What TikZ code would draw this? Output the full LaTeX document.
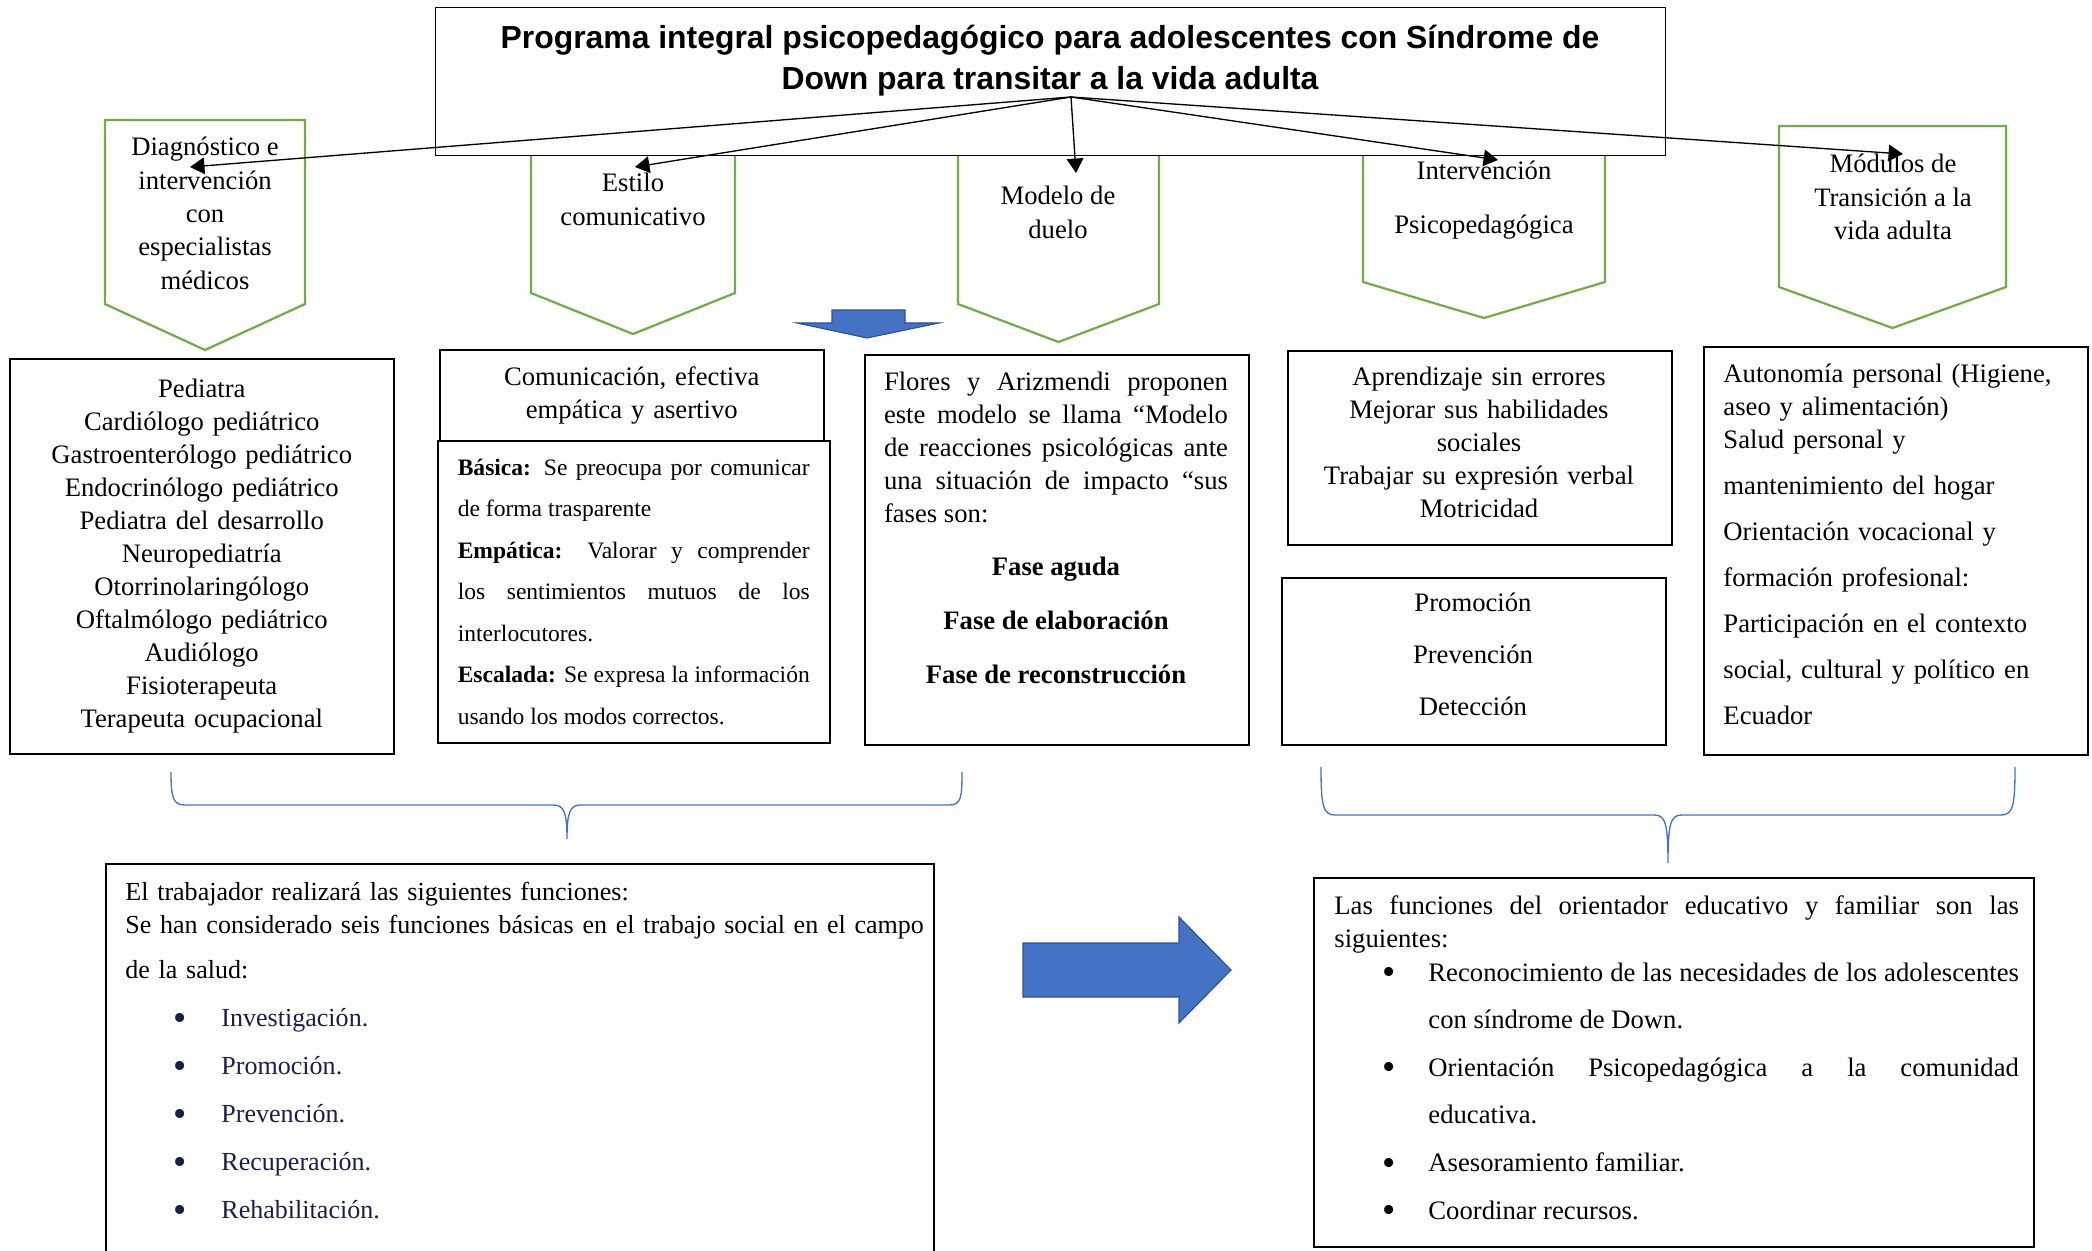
\documentclass[tikz,border=0pt]{standalone}
\usepackage{fontspec}
\setmainfont{Liberation Serif}
\newfontfamily\titlefont{Liberation Sans}
\usetikzlibrary{arrows.meta}
\definecolor{wgreen}{RGB}{112,173,71}
\definecolor{wblue}{RGB}{68,114,196}
\definecolor{wblueline}{RGB}{47,82,143}
\definecolor{navy}{RGB}{25,30,80}
\newcommand{\bigdot}{\raisebox{-1.6pt}{\fontsize{17}{17}\selectfont\textbullet}}

\begin{document}
\begin{tikzpicture}[x=0.45pt, y=-0.45pt,
    box/.style = {draw, line width=0.7pt, inner xsep=9pt, inner ysep=0pt, anchor=north west, font=\fontsize{12}{14.85}\selectfont},
    boxtext/.style = {inner sep=0pt, text width=154.8pt, font=\fontsize{12}{14.85}\selectfont},
    chev/.style = {draw=wgreen, line width=1pt},
    chevtext/.style = {anchor=north, inner sep=0pt, align=center, font=\fontsize{12}{15}\selectfont},
    link/.style = {-{Triangle[length=6.5pt,width=7.5pt]}, line width=0.6pt},
    fatarrow/.style = {fill=wblue, draw=wblueline, line width=0.5pt},
    wbrace/.style = {draw=wblue, line width=0.6pt}]
    \useasboundingbox (0,0) rectangle (2092,1251);

    \foreach \l/\r/\t/\s/\p in {105/305/120/304/350, 531/735/150/293/334, 958/1159/150/304/342, 1363/1605/150/282/318, 1779/2006/126/287/328}
        \draw[chev] (\l,\t) -- (\r,\t) -- (\r,\s) -- ({(\l+\r)/2},\p) -- (\l,\s) -- cycle;

    \node[draw, fill=white, line width=0.6pt, minimum width=553.5pt, minimum height=66.6pt, anchor=north west, inner sep=0pt] (titlebox) at (435,7) {};
    \node[anchor=north, inner sep=0pt, align=center, font=\titlefont\bfseries\fontsize{14.35}{18.45}\selectfont] (title) at (1050,25)
        {Programa integral psicopedagógico para adolescentes con Síndrome de\\ Down para transitar a la vida adulta};

    \node[chevtext] (diag) at (205,137) {Diagnóstico e\\ intervención\\ con\\ especialistas\\ médicos};
    \node[chevtext] (estilo) at (633,173) {Estilo\\ comunicativo};
    \node[chevtext] (duelo) at (1058,186) {Modelo de\\ duelo};
    \node[chevtext] (interv) at (1484,161) {Intervención\\[9.3pt] Psicopedagógica};
    \node[chevtext] (modulos) at (1893,154) {Módulos de\\ Transición a la\\ vida adulta};

    \coordinate (hub) at (1071,97);
    \coordinate (diagtip) at (190,167);
    \coordinate (estilotip) at (635,167);
    \coordinate (duelotip) at (1076,173);
    \coordinate (intervtip) at (1498,160);
    \coordinate (modulostip) at (1903,154);
    \draw[link] (hub) -- (diagtip);
    \draw[link] (hub) -- (estilotip);
    \draw[link] (hub) -- (duelotip);
    \draw[link] (hub) -- (intervtip);
    \draw[link] (hub) -- (modulostip);

    \draw[fatarrow] (832,310) -- (905,310) -- (905,323) -- (939,323) -- (867,338) -- (797,323) -- (832,323) -- cycle;

    \node[box, text width=154.8pt, minimum height=177.75pt, align=center] (medicos) at (9,358)
        {Pediatra\\ Cardiólogo pediátrico\\ Gastroenterólogo pediátrico\\ Endocrinólogo pediátrico\\ Pediatra del desarrollo\\ Neuropediatría\\ Otorrinolaringólogo\\ Oftalmólogo pediátrico\\ Audiólogo\\ Fisioterapeuta\\ Terapeuta ocupacional};

    \node[box, text width=154.8pt, minimum height=40.95pt, align=center] (comunic) at (439,349)
        {Comunicación, efectiva\\ empática y asertivo};
    \node[box, text width=158.4pt, minimum height=135.9pt, align=justify, font=\fontsize{10.6}{18.7}\selectfont] (estilos) at (437,440)
        {\parindent=0pt \textbf{Básica:} Se preocupa por comunicar\linebreak de forma trasparente\par
         \textbf{Empática:} Valorar y comprender\linebreak los sentimientos mutuos de los\linebreak interlocutores.\par
         \textbf{Escalada:} Se expresa la información\linebreak usando los modos correctos.};

    \node[box, minimum width=172.8pt, minimum height=175.5pt] (duelobox) at (864,354) {};
    \node[boxtext, anchor=north, align=justify] (fases) at (1056,372)
        {\parindent=0pt Flores y Arizmendi proponen\linebreak este modelo se llama “Modelo\linebreak de reacciones psicológicas ante\linebreak una situación de impacto “sus\linebreak fases son:\par
         \vspace{9pt}{\centering\bfseries Fase aguda\\[9.45pt] Fase de elaboración\\[9.45pt] Fase de reconstrucción\par}};

    \node[box, minimum width=172.8pt, minimum height=87.3pt] (aprendbox) at (1287,350) {};
    \node[boxtext, anchor=north, align=center] (aprend) at (1479,367)
        {Aprendizaje sin errores\\ Mejorar sus habilidades\\ sociales\\ Trabajar su expresión verbal\\ Motricidad};
    \node[box, minimum width=172.8pt, minimum height=75.15pt] (promobox) at (1281,577) {};
    \node[boxtext, anchor=north, align=center] (promo) at (1473,593)
        {Promoción\\[8.55pt] Prevención\\[8.55pt] Detección};

    \node[box, minimum width=172.8pt, minimum height=183.6pt] (transicbox) at (1703,346) {};
    \node[boxtext, anchor=north west, align=left] (transic) at (1723,364)
        {Autonomía personal (Higiene,\\ aseo y alimentación)\\ Salud personal y\\[5.85pt] mantenimiento del hogar\\[5.85pt] Orientación vocacional y\\[5.85pt] formación profesional:\\[5.85pt] Participación en el contexto\\[5.85pt] social, cultural y político en\\[5.85pt] Ecuador};

    \draw[wbrace] (171,772) .. controls (171,798) and (173,805) .. (185,805) -- (553,805) .. controls (564,805) and (567,812) .. (567,839)
        .. controls (567,812) and (570,805) .. (581,805) -- (949,805) .. controls (961,805) and (962,798) .. (962,772);
    \draw[wbrace] (1321,767) .. controls (1321,806) and (1323,815) .. (1335,815) -- (1654,815) .. controls (1665,815) and (1668,822) .. (1668,863)
        .. controls (1668,822) and (1671,815) .. (1682,815) -- (2001,815) .. controls (2013,815) and (2015,806) .. (2015,767);

    \node[box, minimum width=372.6pt, minimum height=183.15pt] (trabajo) at (105,863) {};
    \node[anchor=north west, inner sep=0pt, text width=368pt, align=left, font=\fontsize{11.72}{14.85}\selectfont] (funciones) at (125,882)
        {\parindent=0pt El trabajador realizará las siguientes funciones:\\ Se han considerado seis funciones básicas en el trabajo social en el campo\\[5.4pt] de la salud:\par
         {\leftskip=43.2pt \baselineskip=21.6pt \color{navy}
          \noindent\llap{\bigdot\hspace{15.5pt}}Investigación.\par
          \noindent\llap{\bigdot\hspace{15.5pt}}Promoción.\par
          \noindent\llap{\bigdot\hspace{15.5pt}}Prevención.\par
          \noindent\llap{\bigdot\hspace{15.5pt}}Recuperación.\par
          \noindent\llap{\bigdot\hspace{15.5pt}}Rehabilitación.\par}};

    \draw[fatarrow] (1023,943) -- (1179,943) -- (1179,917) -- (1231,970) -- (1179,1023) -- (1179,997) -- (1023,997) -- cycle;

    \node[box, minimum width=324pt, minimum height=166.05pt] (orientbox) at (1313,877) {};
    \node[anchor=north west, inner sep=0pt, text width=308pt, align=justify, font=\fontsize{12}{14.85}\selectfont] (orient) at (1334,895)
        {\parindent=0pt Las funciones del orientador educativo y familiar son las\linebreak siguientes:\par
         \vspace{-6.1pt}
         {\leftskip=42.3pt \baselineskip=21.4pt
          \noindent\llap{\bigdot\hspace{14.6pt}}Reconocimiento de las necesidades de los adolescentes\linebreak con síndrome de Down.\par
          \noindent\llap{\bigdot\hspace{14.6pt}}Orientación Psicopedagógica a la comunidad\linebreak educativa.\par
          \noindent\llap{\bigdot\hspace{14.6pt}}Asesoramiento familiar.\par
          \noindent\llap{\bigdot\hspace{14.6pt}}Coordinar recursos.\par}};
\end{tikzpicture}
\end{document}
